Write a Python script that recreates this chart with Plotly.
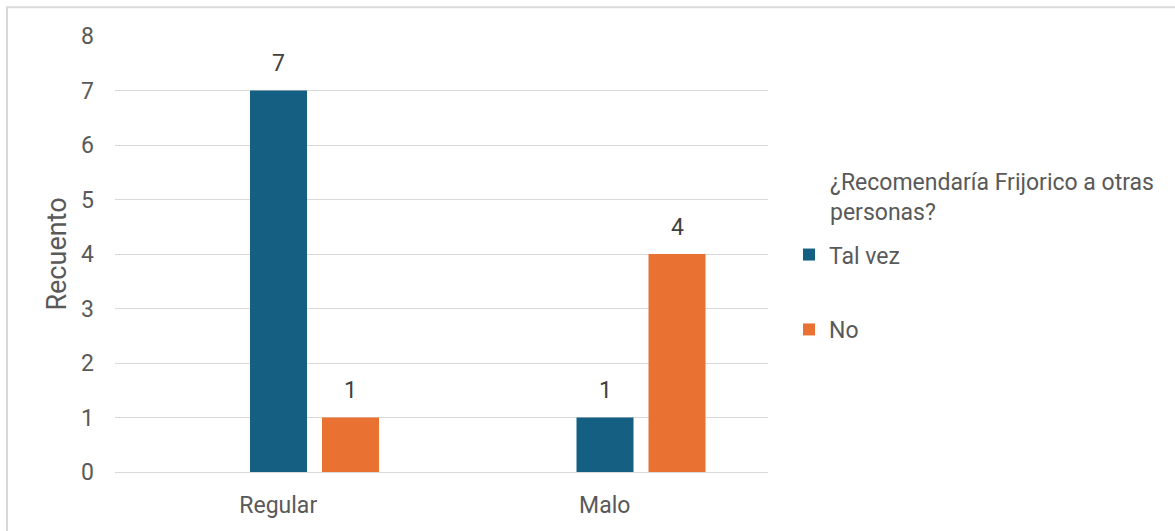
import plotly.graph_objects as go

categories = ["Regular", "Malo"]
tal_vez = [7, 1]
no = [1, 4]
series_names = ["Tal vez", "No"]
legend_title = "¿Recomendaría Frijorico a otras<br>personas?"
y_title = "Recuento"

TEXT = "#595959"
GRID = "#d9d9d9"
FONT = "Roboto"
FS = 23

W_BAR = 0.1746
offsets = [-0.0865, 0.134]
colors = ["#156082", "#E97132"]

fig = go.Figure()
for name, vals, off, col, grp in zip(series_names, [tal_vez, no], offsets, colors, ["a", "b"]):
    fig.add_trace(go.Bar(
        x=categories, y=vals, name=name, width=W_BAR, offset=off,
        marker=dict(color=col, line=dict(width=0)),
        legendgroup=grp, hoverinfo="skip",
    ))
    for i, v in enumerate(vals):
        fig.add_annotation(
            x=i + off + W_BAR / 2, y=v, xref="x", yref="y",
            text=str(v), showarrow=False, yanchor="middle", yshift=27,
            font=dict(family=FONT, size=FS, color="#404040"),
        )

L, R, T, B = 115, 407, 36, 57
PW, PH = 1175 - L - R, 531 - T - B

def px_x(x):
    return (x - L) / PW

def px_y(y):
    return (531 - B - y) / PH

fig.add_annotation(
    x=px_x(828), y=px_y(198), xref="paper", yref="paper",
    text=legend_title, showarrow=False, xanchor="left", yanchor="middle",
    align="left", font=dict(family=FONT, size=FS, color=TEXT),
)

fig.add_shape(
    type="rect", xref="paper", yref="paper",
    x0=px_x(7), x1=px_x(1300), y0=px_y(700), y1=px_y(7),
    line=dict(color=GRID, width=2), fillcolor="rgba(0,0,0,0)", layer="below",
)

fig.update_layout(
    width=1175, height=531,
    margin=dict(l=L, r=R, t=T, b=B),
    paper_bgcolor="white", plot_bgcolor="white",
    barmode="overlay",
    font=dict(family=FONT, size=FS, color=TEXT),
    showlegend=True,
    legend=dict(
        x=px_x(789), xanchor="left", y=px_y(234), yanchor="top",
        tracegroupgap=42, font=dict(family=FONT, size=FS, color=TEXT),
        bgcolor="rgba(0,0,0,0)", traceorder="grouped",
    ),
    xaxis=dict(
        showgrid=False, showline=True, linecolor=GRID, linewidth=1,
        ticks="", ticklabelstandoff=12, tickfont=dict(size=FS, color=TEXT),
    ),
    yaxis=dict(
        range=[0, 8], dtick=1, showgrid=True, gridcolor=GRID, gridwidth=1,
        zeroline=False, showline=False, ticks="", ticklabelstandoff=20,
        tickfont=dict(size=FS, color=TEXT),
        title=dict(text=y_title, standoff=6, font=dict(size=27, color=TEXT)),
    ),
)

fig.write_html("out.html")
